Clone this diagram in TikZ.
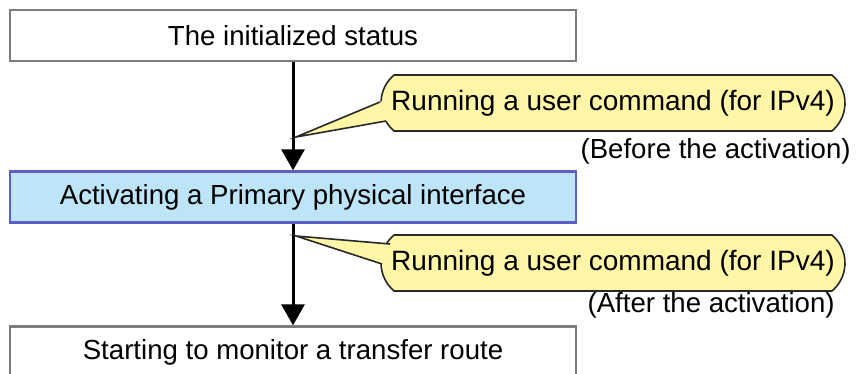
\documentclass[tikz,border=0pt]{standalone}
\usepackage{fontspec}
\setmainfont{Liberation Sans}
\usetikzlibrary{positioning, arrows.meta, shapes.misc, calc}
\definecolor{boxgray}{RGB}{125,125,125}
\definecolor{actfill}{RGB}{190,228,248}
\definecolor{actline}{RGB}{92,96,196}
\definecolor{callfill}{RGB}{255,246,168}
\definecolor{callline}{RGB}{40,40,40}
\begin{document}
\begin{tikzpicture}[x=0.5pt, y=-0.5pt,
      statebox/.style={draw=boxgray, line width=1.2pt, fill=white,
        minimum width=283pt, minimum height=25.5pt, align=center,
        font=\fontsize{13.8}{16}\selectfont},
      actbox/.style={statebox, draw=actline, fill=actfill},
      callbubble/.style={rounded rectangle, rounded rectangle arc length=100,
        draw=callline, line width=0.8pt, fill=callfill, inner xsep=2pt,
        minimum width=236pt, minimum height=28pt,
        font=\fontsize{14}{16}\selectfont},
      timing/.style={anchor=east, inner sep=1pt,
        font=\fontsize{13.8}{16}\selectfont},
      >={Triangle[width=11.5pt, length=10.5pt]}]
    \useasboundingbox (0,0) rectangle (856,374);
    \node[statebox] (init) at (293,35.5) {The initialized status};
    \node[actbox] (act) at (293,197) {Activating a Primary physical interface};
    \node[statebox] (mon) at (293,352) {Starting to monitor a transfer route};
    \foreach \a/\b in {init/act, act/mon} {
      \draw[->, line width=1.5pt] (\a) -- (\b);
    }
    % callouts
    \node[callbubble] (before) at (613,103) {Running a user command (for IPv4)};
    \node[callbubble] (after) at (613,263) {Running a user command (for IPv4)};
    \coordinate (tipb) at (296,137);
    \coordinate (ub) at (380,102);
    \coordinate (lb) at (386,121);
    \coordinate (tipa) at (296,236);
    \coordinate (ua) at (390,244);
    \coordinate (la) at (382,264);
    \foreach \t/\u/\l in {tipb/ub/lb, tipa/ua/la} {
      \fill[callfill] (\t) -- ($(\t)!1.04!(\u)$) -- ($(\t)!1.04!(\l)$) -- cycle;
      \draw[callline, line width=0.8pt, line join=miter] (\u) -- (\t) -- (\l);
    }
    \node[timing] (beforetxt) at (853,151) {(Before the activation)};
    \node[timing] (aftertxt) at (837,305) {(After the activation)};
  \end{tikzpicture}
\end{document}
